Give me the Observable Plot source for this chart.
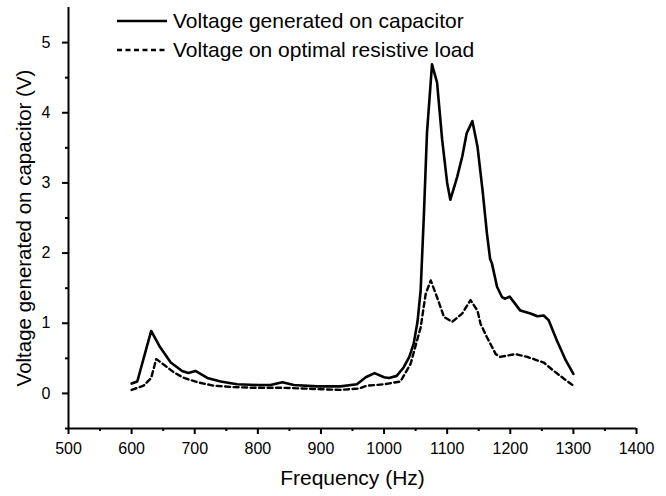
<!DOCTYPE html>
<html>
<head>
<meta charset="utf-8">
<script src="https://cdn.jsdelivr.net/npm/d3@7"></script>
<script src="https://cdn.jsdelivr.net/npm/@observablehq/plot@0.6"></script>
<style>
  html, body { margin: 0; padding: 0; background: #fff; }
  body { font-family: "Liberation Sans", Arial, sans-serif; }
  #wrap { position: relative; width: 666px; height: 496px; }
  #legend { position: absolute; left: 116px; top: 6px; font-size: 21px; color: #000; line-height: 29px; }
  #legend .row { display: flex; align-items: center; white-space: nowrap; }
  #legend svg { margin-right: 5px; }
</style>
</head>
<body>
<div id="wrap"><div id="chart"></div><div id="legend"></div></div>
<script>
// Solid: voltage generated on capacitor
const capFreq = [600, 609, 631, 645, 662, 680, 690, 701, 720, 741, 767, 800, 820, 839, 857, 894, 931, 957, 971, 985, 1000, 1008, 1020, 1031, 1040, 1047, 1053, 1058, 1063, 1068, 1076, 1084, 1092, 1100, 1105, 1116, 1124, 1131, 1140, 1148, 1156, 1163, 1168, 1171, 1179, 1187, 1192, 1199, 1216, 1232, 1243, 1253, 1261, 1274, 1288, 1300];
const capVolt = [0.14, 0.17, 0.89, 0.66, 0.44, 0.32, 0.29, 0.32, 0.22, 0.17, 0.13, 0.12, 0.12, 0.16, 0.12, 0.10, 0.10, 0.13, 0.23, 0.29, 0.23, 0.22, 0.25, 0.37, 0.52, 0.71, 1.02, 1.47, 2.52, 3.71, 4.69, 4.43, 3.62, 3.00, 2.76, 3.09, 3.38, 3.71, 3.88, 3.52, 2.90, 2.28, 1.92, 1.85, 1.52, 1.37, 1.35, 1.38, 1.18, 1.14, 1.10, 1.11, 1.04, 0.75, 0.47, 0.28];
// Dashed: voltage on optimal resistive load
const loadFreq = [600, 619, 631, 639, 651, 667, 683, 704, 730, 762, 794, 840, 900, 931, 960, 973, 1000, 1026, 1042, 1058, 1066, 1074, 1084, 1095, 1108, 1124, 1137, 1148, 1153, 1163, 1177, 1184, 1208, 1227, 1253, 1269, 1285, 1300];
const loadVolt = [0.05, 0.11, 0.22, 0.49, 0.41, 0.30, 0.22, 0.16, 0.11, 0.09, 0.08, 0.08, 0.06, 0.05, 0.07, 0.11, 0.13, 0.17, 0.42, 0.94, 1.42, 1.61, 1.37, 1.09, 1.02, 1.14, 1.33, 1.18, 0.99, 0.80, 0.56, 0.52, 0.56, 0.52, 0.44, 0.32, 0.21, 0.11];

const seriesNames = ["Voltage generated on capacitor", "Voltage on optimal resistive load"];
const xMajor = [500, 600, 700, 800, 900, 1000, 1100, 1200, 1300, 1400];
const xMinor = [550, 650, 750, 850, 950, 1050, 1150, 1250, 1350];
const yMajor = [0, 1, 2, 3, 4, 5];
const yMinor = [-0.5, 0.5, 1.5, 2.5, 3.5, 4.5];
const xTitle = "Frequency (Hz)";
const yTitle = "Voltage generated on capacitor (V)";

const cap = capFreq.map((f, i) => ({f, v: capVolt[i]}));
const load = loadFreq.map((f, i) => ({f, v: loadVolt[i]}));

const chart = Plot.plot({
  width: 666,
  height: 496,
  marginLeft: 68,
  marginRight: 30,
  marginTop: 7,
  marginBottom: 68,
  style: {fontFamily: '"Liberation Sans", Arial, sans-serif', color: "#000", background: "#fff", overflow: "visible"},
  x: {domain: [500, 1400]},
  y: {domain: [-0.5, 5.5]},
  marks: [
    Plot.axisX({ticks: xMajor, tickFormat: d => String(d), tickSize: 6, tickPadding: 8, fontSize: 16, label: null, strokeWidth: 2}),
    Plot.axisX({ticks: xMinor, tickSize: 3, text: null, label: null, strokeWidth: 2}),
    Plot.axisY({ticks: yMajor, tickFormat: d => String(d), tickSize: 6, tickPadding: 12, fontSize: 16, label: null, strokeWidth: 2}),
    Plot.axisY({ticks: yMinor, tickSize: 3, text: null, label: null, strokeWidth: 2}),
    Plot.ruleY([-0.5], {stroke: "#000", strokeWidth: 2}),
    Plot.ruleX([500], {stroke: "#000", strokeWidth: 2}),
    Plot.text([xTitle], {frameAnchor: "bottom", dy: 56, fontSize: 21, fill: "#000"}),
    Plot.text([yTitle], {frameAnchor: "left", textAnchor: "middle", dx: -44, dy: 10, rotate: -90, fontSize: 20.5, fill: "#000"}),
    Plot.line(load, {x: "f", y: "v", stroke: "#000", strokeWidth: 2.4, strokeDasharray: "5,3.5"}),
    Plot.line(cap, {x: "f", y: "v", stroke: "#000", strokeWidth: 2.6, strokeLinejoin: "round"})
  ]
});
document.getElementById("chart").append(chart);

const legend = document.getElementById("legend");
const dashes = [null, "5,3.5"];
seriesNames.forEach((name, i) => {
  const row = document.createElement("div");
  row.className = "row";
  row.innerHTML = `<svg width="52" height="10"><line x1="1" x2="51" y1="5" y2="5" stroke="#000" stroke-width="2.4" ${dashes[i] ? `stroke-dasharray="${dashes[i]}"` : ""}></line></svg><span>${name}</span>`;
  legend.append(row);
});
</script>
</body>
</html>
